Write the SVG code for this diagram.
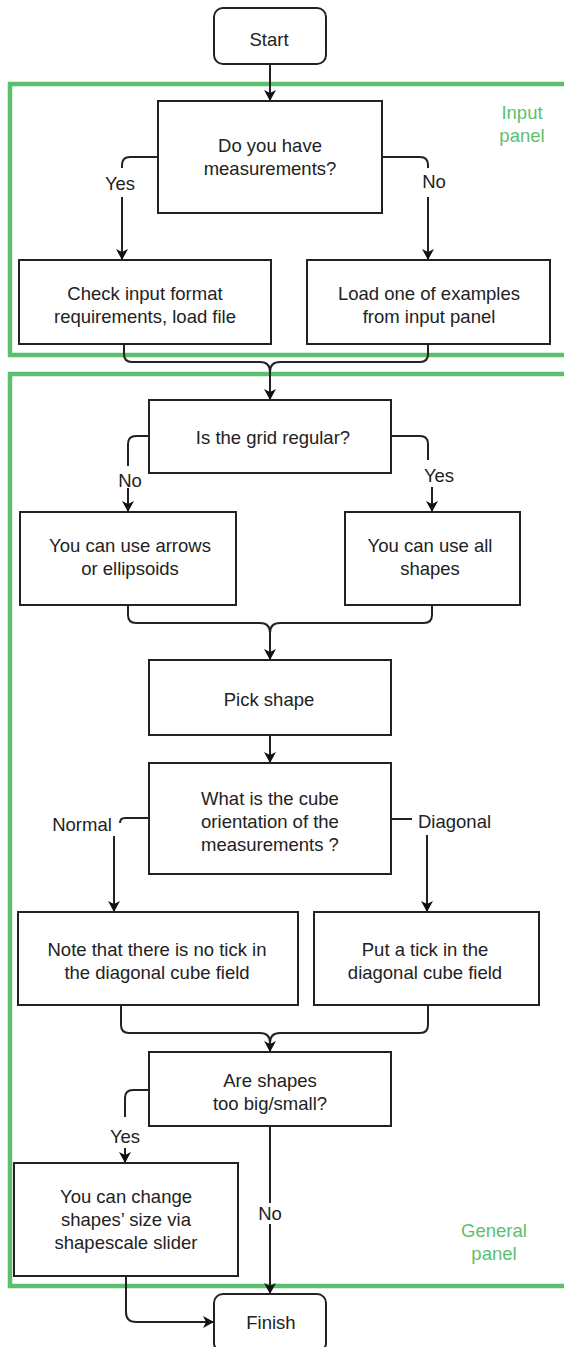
<svg xmlns="http://www.w3.org/2000/svg" width="564" height="1347" viewBox="0 0 564 1347">
<defs>
<style>
.box{fill:#fff;stroke:#222;stroke-width:2}
.t{font-family:"Liberation Sans",Arial,sans-serif;font-size:18.5px;fill:#222;text-anchor:middle}
.g{font-family:"Liberation Sans",Arial,sans-serif;font-size:18.5px;fill:#5cbf6e;text-anchor:middle}
.panel{fill:none;stroke:#5cbf6e;stroke-width:4.5}
.c{fill:none;stroke:#222;stroke-width:2}
.a{marker-end:url(#arr)}
</style>
<marker id="arr" markerUnits="userSpaceOnUse" markerWidth="12" markerHeight="12" refX="11" refY="6" orient="auto">
<path d="M0,0 L11,6 L0,12 L3,6 z" fill="#111"/>
</marker>
</defs>
<rect width="564" height="1347" fill="#fff"/>

<g id="panels">
<rect class="panel" x="10" y="84" width="570" height="271"/>
<rect class="panel" x="10" y="374" width="570" height="912"/>
<text class="g" x="522" y="118.5">Input</text>
<text class="g" x="522" y="141.5">panel</text>
<text class="g" x="494" y="1236.5">General</text>
<text class="g" x="494" y="1259.5">panel</text>
</g>

<g id="connectors">
<path class="c a" d="M270,64 V101"/>
<path class="c" d="M158,157 H130 Q122,157 122,165 V168"/>
<path class="c a" d="M122,197 V260"/>
<path class="c" d="M382,157 H420 Q428,157 428,165 V168"/>
<path class="c a" d="M428,197 V260"/>
<path class="c a" d="M124,344 V354 Q124,362 132,362 H260 Q270,362 270,372 V400"/>
<path class="c" d="M428,344 V354 Q428,362 420,362 H280 Q270,362 270,372"/>
<path class="c" d="M149,436 H136 Q128,436 128,444 V466"/>
<path class="c a" d="M128,488 V512"/>
<path class="c" d="M391,436 H420 Q428,436 428,444 V460"/>
<path class="c a" d="M432,487 V512"/>
<path class="c a" d="M128,605 V615 Q128,623 136,623 H260 Q270,623 270,633 V660"/>
<path class="c" d="M432,605 V615 Q432,623 424,623 H280 Q270,623 270,633"/>
<path class="c a" d="M270,735 V763"/>
<path class="c" d="M149,818 H125 Q120,818 120,823"/>
<path class="c a" d="M114,836 V912"/>
<path class="c" d="M391,819 H412"/>
<path class="c a" d="M427,835 V912"/>
<path class="c a" d="M121,1005 V1025 Q121,1033 129,1033 H260 Q270,1033 270,1043 V1052"/>
<path class="c" d="M428,1005 V1025 Q428,1033 420,1033 H280 Q270,1033 270,1043"/>
<path class="c" d="M149,1090 H133 Q125,1090 125,1098 V1117"/>
<path class="c a" d="M125,1148 V1163"/>
<path class="c" d="M270,1126 V1203"/>
<path class="c a" d="M270,1224 V1294"/>
<path class="c a" d="M126,1276 V1312 Q126,1322 136,1322 H214"/>
<text class="t" x="120" y="189.5">Yes</text>
<text class="t" x="434" y="187.5">No</text>
<text class="t" x="130" y="486.5">No</text>
<text class="t" x="439" y="481.5">Yes</text>
<text class="t" x="82" y="830.5">Normal</text>
<text class="t" x="418" y="827.5" style="text-anchor:start">Diagonal</text>
<text class="t" x="125" y="1142.5">Yes</text>
<text class="t" x="270" y="1219.5">No</text>
</g>

<g id="start">
<rect class="box" x="214" y="8" width="112" height="56" rx="9"/>
<text class="t" x="269" y="45.5">Start</text>
</g>

<g id="q-measurements">
<rect class="box" x="158" y="101" width="224" height="112"/>
<text class="t" x="270" y="152">Do you have</text>
<text class="t" x="270" y="175">measurements?</text>
</g>

<g id="check-input">
<rect class="box" x="19" y="260" width="252" height="84"/>
<text class="t" x="145" y="300">Check input format</text>
<text class="t" x="145" y="323">requirements, load file</text>
</g>

<g id="load-example">
<rect class="box" x="307" y="260" width="243" height="84"/>
<text class="t" x="429" y="300">Load one of examples</text>
<text class="t" x="429" y="323">from input panel</text>
</g>

<g id="q-grid">
<rect class="box" x="149" y="400" width="242" height="73"/>
<text class="t" x="273" y="443.5">Is the grid regular?</text>
</g>

<g id="arrows-ellipsoids">
<rect class="box" x="20" y="512" width="216" height="93"/>
<text class="t" x="130" y="551.5">You can use arrows</text>
<text class="t" x="130" y="574.5">or ellipsoids</text>
</g>

<g id="all-shapes">
<rect class="box" x="345" y="512" width="175" height="93"/>
<text class="t" x="430" y="551.5">You can use all</text>
<text class="t" x="430" y="574.5">shapes</text>
</g>

<g id="pick-shape">
<rect class="box" x="149" y="660" width="242" height="75"/>
<text class="t" x="269" y="705.5">Pick shape</text>
</g>

<g id="q-orientation">
<rect class="box" x="149" y="763" width="242" height="111"/>
<text class="t" x="270" y="805">What is the cube</text>
<text class="t" x="270" y="828">orientation of the</text>
<text class="t" x="270" y="851">measurements ?</text>
</g>

<g id="no-tick">
<rect class="box" x="18" y="912" width="280" height="93"/>
<text class="t" x="157" y="955.5">Note that there is no tick in</text>
<text class="t" x="157" y="978.5">the diagonal cube field</text>
</g>

<g id="put-tick">
<rect class="box" x="314" y="912" width="225" height="93"/>
<text class="t" x="425" y="955.5">Put a tick in the</text>
<text class="t" x="425" y="978.5">diagonal cube field</text>
</g>

<g id="q-size">
<rect class="box" x="149" y="1052" width="242" height="74"/>
<text class="t" x="270" y="1086.5">Are shapes</text>
<text class="t" x="270" y="1109.5">too big/small?</text>
</g>

<g id="change-size">
<rect class="box" x="14" y="1163" width="224" height="113"/>
<text class="t" x="126" y="1203">You can change</text>
<text class="t" x="126" y="1226">shapes’ size via</text>
<text class="t" x="126" y="1249">shapescale slider</text>
</g>

<g id="finish">
<rect class="box" x="214" y="1294" width="112" height="58" rx="9"/>
<text class="t" x="271" y="1329">Finish</text>
</g>
</svg>
